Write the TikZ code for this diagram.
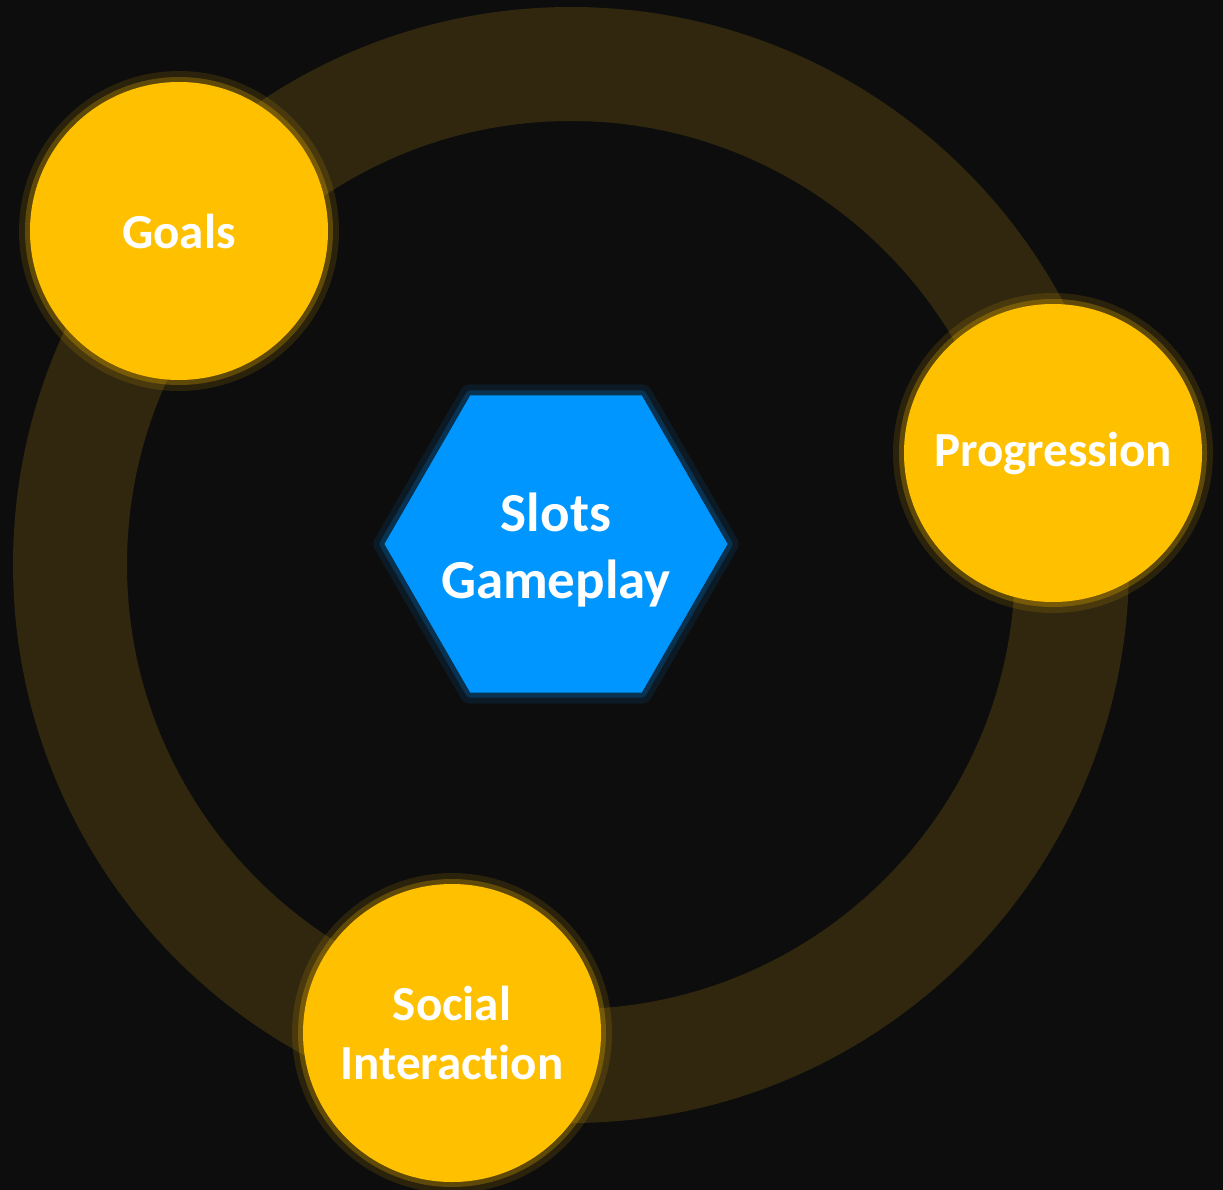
\documentclass[tikz,border=0pt]{standalone}
\usepackage{fontspec}
\setmainfont{Carlito}[Ligatures=NoCommon]
\usetikzlibrary{shapes.geometric}

\definecolor{bgdark}{RGB}{13,13,13}
\definecolor{ringgold}{RGB}{48,39,14}
\definecolor{gold}{RGB}{255,192,0}
\definecolor{skyblue}{RGB}{0,150,255}

\begin{document}
\begin{tikzpicture}[
    x=1pt, y=-1pt,
    ring/.style={draw=ringgold, line width=114pt},
    topic/.style={circle, fill=gold, inner sep=0pt, minimum size=298pt,
      text=white, align=center, font=\fontsize{49}{59}\selectfont\bfseries,
      preaction={draw=gold, line width=22pt, draw opacity=0.12},
      preaction={draw=gold, line width=10pt, draw opacity=0.25}},
    core/.style={regular polygon, regular polygon sides=6, fill=skyblue,
      inner sep=0pt, minimum size=343pt, line join=round,
      preaction={draw=skyblue, line width=22pt, draw opacity=0.1},
      preaction={draw=skyblue, line width=10pt, draw opacity=0.2}},
    coretext/.style={text=white, align=center,
      font=\fontsize{55}{67}\selectfont\bfseries}
  ]
  \fill[bgdark] (0,0) rectangle (1223,1190);
  \useasboundingbox (0,0) rectangle (1223,1190);

  \coordinate (hub) at (571,565);
  \draw[ring] (hub) circle[radius=501];

  \node[core]  (slots)    at (556,544)  {};
  \node[coretext] (slotslabel) at ([yshift=-6]slots.center) {Slots\\Gameplay};
  \node[topic] (goals)    at (179,231)  {Goals};
  \node[topic] (progress) at (1053,453) {Progression};
  \node[topic] (social)   at (452,1033) {Social\\Interaction};
\end{tikzpicture}
\end{document}
